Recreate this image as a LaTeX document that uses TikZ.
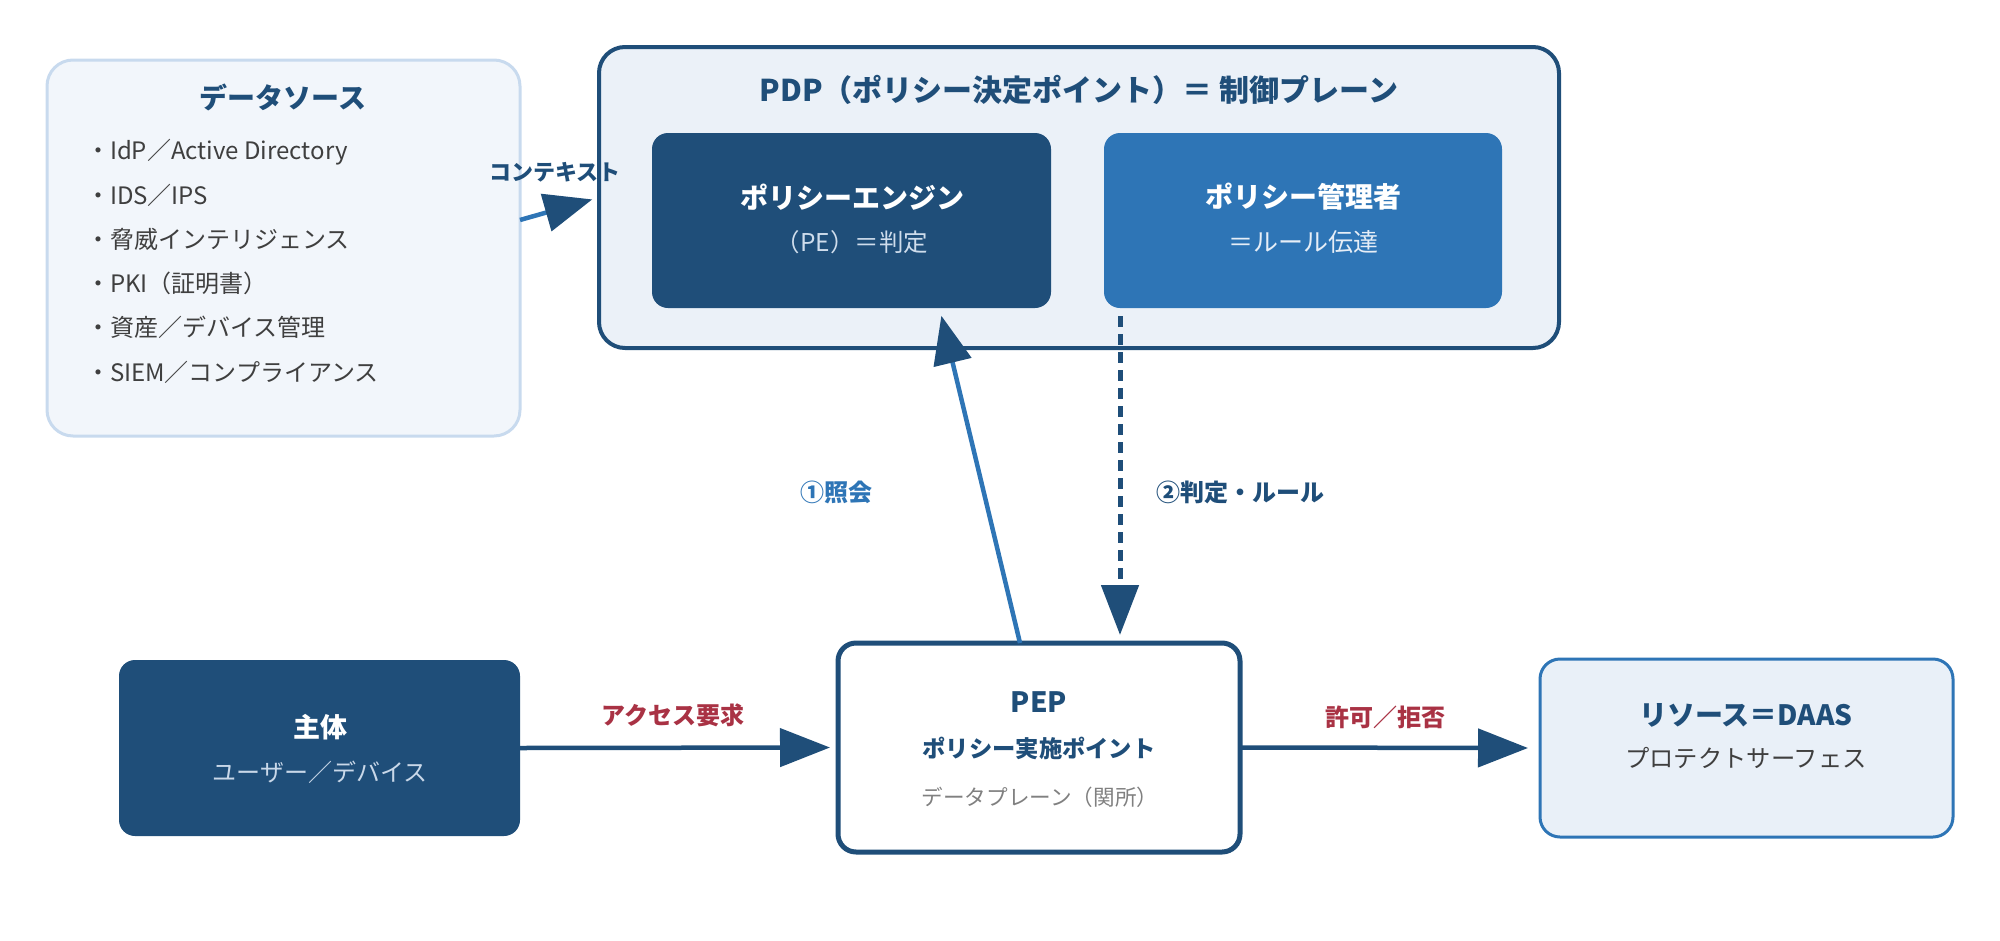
\documentclass[tikz,border=0pt]{standalone}
\usepackage{fontspec}
\setmainfont{Noto Sans CJK JP}
\usetikzlibrary{arrows.meta,calc}
\definecolor{navy}{HTML}{1F4E79}
\definecolor{midblue}{HTML}{2E75B6}
\definecolor{pdpfill}{HTML}{EBF1F8}
\definecolor{dsfill}{HTML}{F2F6FB}
\definecolor{dsborder}{HTML}{C8DAEE}
\definecolor{resfill}{HTML}{E9F0F8}
\definecolor{lblred}{HTML}{A93244}
\definecolor{bodygray}{HTML}{3F3F3F}
\definecolor{pepgray}{HTML}{808080}
\definecolor{pesub}{HTML}{CFDDEC}
\definecolor{pasub}{HTML}{E6EEF7}
\definecolor{subjsub}{HTML}{C9D8E9}
\newcommand{\fsz}[1]{\fontsize{#1}{#1}\selectfont}
\begin{document}
\begin{tikzpicture}[x=1pt,y=-1pt,
  panel/.style={inner sep=0pt, outer sep=0pt},
  txt/.style={inner sep=0pt, outer sep=0pt, anchor=center},
  bullet/.style={inner sep=0pt, outer sep=0pt, anchor=west, text=bodygray, font=\fsz{24}},
  flow/.style={line width=4.5pt, draw=navy, -{Triangle[length=50pt,width=38pt,color=navy]}},
  lbl/.style={inner sep=0pt, font=\fsz{24}\bfseries}
]
\useasboundingbox (0,0) rectangle (2000,940);

% boxes
\node[panel, draw=dsborder, line width=3pt, fill=dsfill, rounded corners=26pt,
      minimum width=473pt, minimum height=376pt] (ds) at (283.5,248) {};
\node[panel, draw=navy, line width=4pt, fill=pdpfill, rounded corners=26pt,
      minimum width=960pt, minimum height=301pt] (pdp) at (1079,197.5) {};
\node[panel, fill=navy, rounded corners=16pt,
      minimum width=399pt, minimum height=175pt] (pe) at (851.5,220.5) {};
\node[panel, fill=midblue, rounded corners=16pt,
      minimum width=398pt, minimum height=175pt] (pa) at (1303,220.5) {};
\node[panel, fill=navy, rounded corners=16pt,
      minimum width=401pt, minimum height=176pt] (subj) at (319.5,748) {};
\node[panel, draw=navy, line width=5pt, fill=white, rounded corners=18pt,
      minimum width=402pt, minimum height=209pt] (pep) at (1039,747.5) {};
\node[panel, draw=midblue, line width=3pt, fill=resfill, rounded corners=20pt,
      minimum width=413pt, minimum height=178pt] (res) at (1746.5,748) {};

% data source texts
\node[txt, text=navy, font=\fsz{28}\bfseries] (dst) at (283,97) {データソース};
\node[bullet] (b1) at (86,152) {・IdP／Active Directory};
\node[bullet] (b2) at (86,195) {・IDS／IPS};
\node[bullet] (b3) at (86,239) {・脅威インテリジェンス};
\node[bullet] (b4) at (86,283) {・PKI（証明書）};
\node[bullet] (b5) at (86,327) {・資産／デバイス管理};
\node[bullet] (b6) at (86,372) {・SIEM／コンプライアンス};

% PDP texts
\node[txt, text=navy, font=\fsz{30}\bfseries] (pdpt) at (1079,90) {PDP（ポリシー決定ポイント）＝ 制御プレーン};
\node[txt, text=white, font=\fsz{28}\bfseries] (pet) at (852,197) {ポリシーエンジン};
\node[txt, text=pesub, font=\fsz{24.5}] (pes) at (852,242) {（PE）＝判定};
\node[txt, text=white, font=\fsz{28}\bfseries] (pat) at (1303,197) {ポリシー管理者};
\node[txt, text=pasub, font=\fsz{25}] (pas) at (1303,242) {＝ルール伝達};

% subject
\node[txt, text=white, font=\fsz{27}\bfseries] (subjt) at (320,727) {主体};
\node[txt, text=subjsub, font=\fsz{24}] (subjs) at (320,772) {ユーザー／デバイス};

% PEP
\node[txt, text=navy, font=\fsz{28}\bfseries] (pept) at (1039,702) {PEP};
\node[txt, text=navy, font=\fsz{23.3}\bfseries] (peps) at (1039,748) {ポリシー実施ポイント};
\node[txt, text=pepgray, font=\fsz{21.6}] (pepd) at (1040,797) {データプレーン（関所）};

% resource
\node[txt, text=navy, font=\fsz{28}\bfseries] (rest) at (1746,715) {リソース＝DAAS};
\node[txt, text=bodygray, font=\fsz{24.3}] (ress) at (1746,758) {プロテクトサーフェス};

% connectors
\draw[flow] (subj.east) -- ([xshift=-8pt]pep.west);
\draw[flow] (pep.east) -- ([xshift=-12pt]res.west);
\draw[line width=4.5pt, draw=midblue, -{Triangle[length=48pt,width=38pt,color=navy]}, shorten >=8pt]
  ([xshift=-19pt]pep.north) -- ([xshift=88pt]pe.south);
\draw[line width=5pt, draw=navy, dash pattern=on 11pt off 7pt, shorten <=8pt, shorten >=8pt,
  -{Triangle[length=50pt,width=37pt,color=navy]}]
  ([xshift=-183pt]pa.south) -- ([xshift=81pt]pep.north);
\draw[line width=4.5pt, draw=midblue, -{Triangle[length=48pt,width=38pt,color=navy]}, shorten >=7pt]
  ([yshift=28pt]ds.east) -- (pdp.west);

% labels
\node[lbl, text=lblred] (l1) at (673,715) {アクセス要求};
\node[lbl, text=lblred] (l2) at (1385,717) {許可／拒否};
\node[lbl, text=midblue] (l3) at (836,492) {①照会};
\node[lbl, text=navy] (l4) at (1240,492) {②判定・ルール};
\node[inner sep=0pt, text=navy, font=\fsz{22}\bfseries] (l5) at (555,172) {コンテキスト};
\end{tikzpicture}
\end{document}
